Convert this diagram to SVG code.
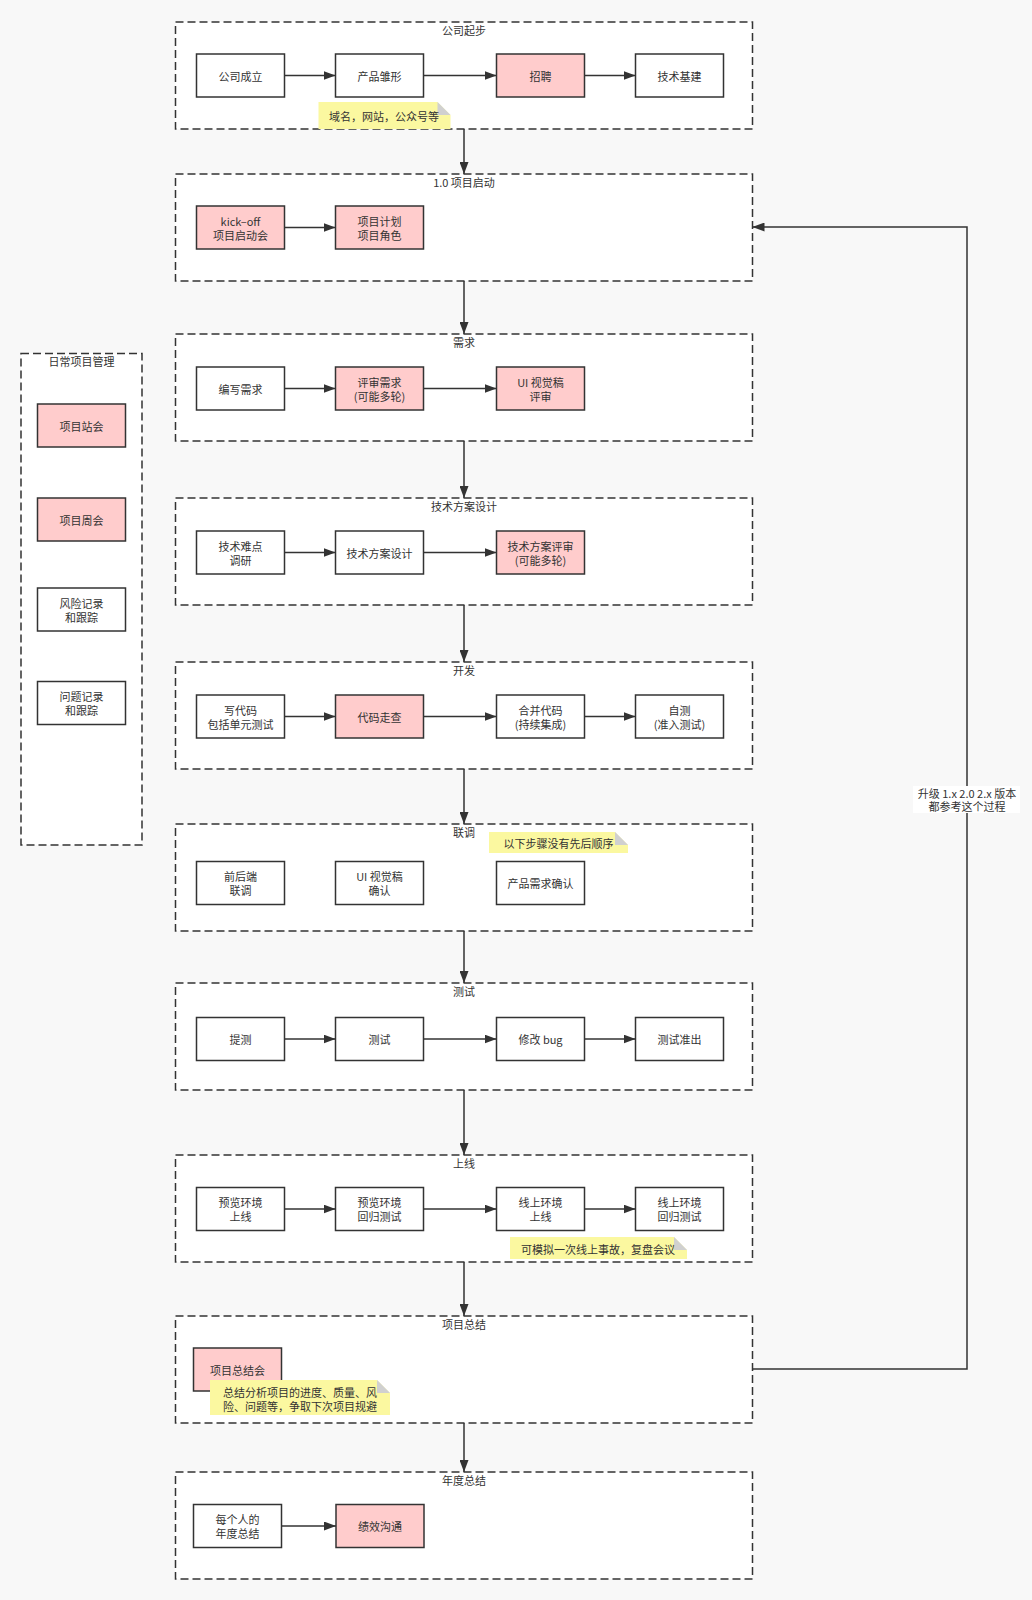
<svg xmlns="http://www.w3.org/2000/svg" width="1032" height="1600" viewBox="0 0 1032 1600">
<style>
text{font-family:"Noto Sans CJK SC","Liberation Sans",sans-serif;font-size:11px;fill:#333;text-anchor:middle;dominant-baseline:central}
.grp{fill:#fff;stroke:#333;stroke-width:1.5;stroke-dasharray:8 4}
.n{fill:#fff;stroke:#333;stroke-width:1.5}
.p{fill:#ffcccc;stroke:#333;stroke-width:1.5}
.note{fill:#fbf8a0}
.fold{fill:#d0d0d0}
.c{fill:none;stroke:#333;stroke-width:1.5;marker-end:url(#ah)}
</style>
<defs>
<marker id="ah" markerWidth="12" markerHeight="9" refX="12" refY="4.5" orient="auto" markerUnits="userSpaceOnUse"><path d="M0,0 L12,4.5 L0,9 Z" fill="#333"/></marker>
</defs>
<rect width="1032" height="1600" fill="#f8f8f8"/>

<!-- containers -->
<g id="grp-start"><rect class="grp" x="175.5" y="22" width="577" height="107"/><text x="464" y="29.5">公司起步</text></g>
<g id="grp-kickoff"><rect class="grp" x="175.5" y="174" width="577" height="107"/><text x="464" y="181.5">1.0 项目启动</text></g>
<g id="grp-req"><rect class="grp" x="175.5" y="334" width="577" height="107"/><text x="464" y="341.5">需求</text></g>
<g id="grp-design"><rect class="grp" x="175.5" y="498" width="577" height="107"/><text x="464" y="505.5">技术方案设计</text></g>
<g id="grp-dev"><rect class="grp" x="175.5" y="662" width="577" height="107"/><text x="464" y="669.5">开发</text></g>
<g id="grp-joint"><rect class="grp" x="175.5" y="824" width="577" height="107"/><text x="464" y="831.5">联调</text></g>
<g id="grp-test"><rect class="grp" x="175.5" y="983" width="577" height="107"/><text x="464" y="990.5">测试</text></g>
<g id="grp-release"><rect class="grp" x="175.5" y="1155" width="577" height="107"/><text x="464" y="1162.5">上线</text></g>
<g id="grp-summary"><rect class="grp" x="175.5" y="1316" width="577" height="107"/><text x="464" y="1323.5">项目总结</text></g>
<g id="grp-annual"><rect class="grp" x="175.5" y="1472" width="577" height="107"/><text x="464" y="1479.5">年度总结</text></g>
<g id="grp-daily"><rect class="grp" x="21" y="353.5" width="121" height="491.5"/><text x="81.5" y="361">日常项目管理</text></g>

<!-- connectors -->
<g id="connectors">
<path class="c" d="M284.5,75.5 H335.5"/>
<path class="c" d="M423.5,75.5 H496.5"/>
<path class="c" d="M584.5,75.5 H635.5"/>
<path class="c" d="M284.5,227.5 H335.5"/>
<path class="c" d="M284.5,388.5 H335.5"/>
<path class="c" d="M423.5,388.5 H496.5"/>
<path class="c" d="M284.5,552.5 H335.5"/>
<path class="c" d="M423.5,552.5 H496.5"/>
<path class="c" d="M284.5,716.5 H335.5"/>
<path class="c" d="M423.5,716.5 H496.5"/>
<path class="c" d="M584.5,716.5 H635.5"/>
<path class="c" d="M284.5,1039 H335.5"/>
<path class="c" d="M423.5,1039 H496.5"/>
<path class="c" d="M584.5,1039 H635.5"/>
<path class="c" d="M284.5,1209 H335.5"/>
<path class="c" d="M423.5,1209 H496.5"/>
<path class="c" d="M584.5,1209 H635.5"/>
<path class="c" d="M281.5,1526 H336"/>
<path class="c" d="M464,129 V174"/>
<path class="c" d="M464,281 V334"/>
<path class="c" d="M464,441 V498"/>
<path class="c" d="M464,605 V662"/>
<path class="c" d="M464,769 V824"/>
<path class="c" d="M464,931 V983"/>
<path class="c" d="M464,1090 V1155"/>
<path class="c" d="M464,1262 V1316"/>
<path class="c" d="M464,1423 V1472"/>
<path class="c" d="M752.5,1369 H967 V227 H752.5"/>
<rect x="913" y="786" width="107" height="27" fill="#fff"/>
<text x="967" y="793">升级 1.x 2.0 2.x 版本</text>
<text x="967" y="806">都参考这个过程</text>
</g>

<!-- 公司起步 -->
<g id="n-found"><rect class="n" x="196.5" y="54" width="88" height="43"/><text x="240.5" y="75.5">公司成立</text></g>
<g id="n-proto"><rect class="n" x="335.5" y="54" width="88" height="43"/><text x="379.5" y="75.5">产品雏形</text></g>
<g id="n-hire"><rect class="p" x="496.5" y="54" width="88" height="43"/><text x="540.5" y="75.5">招聘</text></g>
<g id="n-infra"><rect class="n" x="635.5" y="54" width="88" height="43"/><text x="679.5" y="75.5">技术基建</text></g>
<g id="note-domain"><path class="note" d="M318.5,102 H437.5 L450.5,115 V129 H318.5 Z"/><path class="fold" d="M437.5,102 L450.5,115 H437.5 Z"/><text x="384" y="116">域名，网站，公众号等</text></g>

<!-- 1.0 项目启动 -->
<g id="n-kickoff"><rect class="p" x="196.5" y="206" width="88" height="43"/><text x="240.5" y="220.5">kick–off</text><text x="240.5" y="234.5">项目启动会</text></g>
<g id="n-plan"><rect class="p" x="335.5" y="206" width="88" height="43"/><text x="379.5" y="220.5">项目计划</text><text x="379.5" y="234.5">项目角色</text></g>

<!-- 需求 -->
<g id="n-writereq"><rect class="n" x="196.5" y="367" width="88" height="43"/><text x="240.5" y="388.5">编写需求</text></g>
<g id="n-reviewreq"><rect class="p" x="335.5" y="367" width="88" height="43"/><text x="379.5" y="381.5">评审需求</text><text x="379.5" y="395.5">(可能多轮)</text></g>
<g id="n-uireview"><rect class="p" x="496.5" y="367" width="88" height="43"/><text x="540.5" y="381.5">UI 视觉稿</text><text x="540.5" y="395.5">评审</text></g>

<!-- 技术方案设计 -->
<g id="n-research"><rect class="n" x="196.5" y="531" width="88" height="43"/><text x="240.5" y="545.5">技术难点</text><text x="240.5" y="559.5">调研</text></g>
<g id="n-techdesign"><rect class="n" x="335.5" y="531" width="88" height="43"/><text x="379.5" y="552.5">技术方案设计</text></g>
<g id="n-techreview"><rect class="p" x="496.5" y="531" width="88" height="43"/><text x="540.5" y="545.5">技术方案评审</text><text x="540.5" y="559.5">(可能多轮)</text></g>

<!-- 开发 -->
<g id="n-code"><rect class="n" x="196.5" y="695" width="88" height="43"/><text x="240.5" y="709.5">写代码</text><text x="240.5" y="723.5">包括单元测试</text></g>
<g id="n-codereview"><rect class="p" x="335.5" y="695" width="88" height="43"/><text x="379.5" y="716.5">代码走查</text></g>
<g id="n-merge"><rect class="n" x="496.5" y="695" width="88" height="43"/><text x="540.5" y="709.5">合并代码</text><text x="540.5" y="723.5">(持续集成)</text></g>
<g id="n-selftest"><rect class="n" x="635.5" y="695" width="88" height="43"/><text x="679.5" y="709.5">自测</text><text x="679.5" y="723.5">(准入测试)</text></g>

<!-- 联调 -->
<g id="n-fe-be"><rect class="n" x="196.5" y="861.5" width="88" height="43"/><text x="240.5" y="876">前后端</text><text x="240.5" y="890">联调</text></g>
<g id="n-uiconfirm"><rect class="n" x="335.5" y="861.5" width="88" height="43"/><text x="379.5" y="876">UI 视觉稿</text><text x="379.5" y="890">确认</text></g>
<g id="n-prodconfirm"><rect class="n" x="496.5" y="861.5" width="88" height="43"/><text x="540.5" y="883">产品需求确认</text></g>
<g id="note-order"><path class="note" d="M489,832 H615 L628,845 V853 H489 Z"/><path class="fold" d="M615,832 L628,845 H615 Z"/><text x="558.5" y="843">以下步骤没有先后顺序</text></g>

<!-- 测试 -->
<g id="n-submit"><rect class="n" x="196.5" y="1017.5" width="88" height="43"/><text x="240.5" y="1039">提测</text></g>
<g id="n-testing"><rect class="n" x="335.5" y="1017.5" width="88" height="43"/><text x="379.5" y="1039">测试</text></g>
<g id="n-fixbug"><rect class="n" x="496.5" y="1017.5" width="88" height="43"/><text x="540.5" y="1039">修改 bug</text></g>
<g id="n-testexit"><rect class="n" x="635.5" y="1017.5" width="88" height="43"/><text x="679.5" y="1039">测试准出</text></g>

<!-- 上线 -->
<g id="n-preview"><rect class="n" x="196.5" y="1187.5" width="88" height="43"/><text x="240.5" y="1202">预览环境</text><text x="240.5" y="1216">上线</text></g>
<g id="n-previewreg"><rect class="n" x="335.5" y="1187.5" width="88" height="43"/><text x="379.5" y="1202">预览环境</text><text x="379.5" y="1216">回归测试</text></g>
<g id="n-online"><rect class="n" x="496.5" y="1187.5" width="88" height="43"/><text x="540.5" y="1202">线上环境</text><text x="540.5" y="1216">上线</text></g>
<g id="n-onlinereg"><rect class="n" x="635.5" y="1187.5" width="88" height="43"/><text x="679.5" y="1202">线上环境</text><text x="679.5" y="1216">回归测试</text></g>
<g id="note-incident"><path class="note" d="M510,1237 H674 L687,1250 V1259 H510 Z"/><path class="fold" d="M674,1237 L687,1250 H674 Z"/><text x="598" y="1248.5">可模拟一次线上事故，复盘会议</text></g>

<!-- 项目总结 -->
<g id="n-retro"><rect class="p" x="193.5" y="1348" width="88" height="43"/><text x="237.5" y="1370">项目总结会</text></g>
<g id="note-retro"><path class="note" d="M210,1380 H377 L390,1393 V1415 H210 Z"/><path class="fold" d="M377,1380 L390,1393 H377 Z"/><text x="300" y="1392">总结分析项目的进度、质量、风</text><text x="300" y="1406">险、问题等，争取下次项目规避</text></g>

<!-- 年度总结 -->
<g id="n-personal"><rect class="n" x="193.5" y="1504.5" width="88" height="43"/><text x="237.5" y="1519">每个人的</text><text x="237.5" y="1533">年度总结</text></g>
<g id="n-perf"><rect class="p" x="336" y="1504.5" width="88" height="43"/><text x="380" y="1526">绩效沟通</text></g>

<!-- 日常项目管理 -->
<g id="n-standup"><rect class="p" x="37.5" y="404" width="88" height="43"/><text x="81.5" y="425.5">项目站会</text></g>
<g id="n-weekly"><rect class="p" x="37.5" y="498" width="88" height="43"/><text x="81.5" y="519.5">项目周会</text></g>
<g id="n-risk"><rect class="n" x="37.5" y="588" width="88" height="43"/><text x="81.5" y="602.5">风险记录</text><text x="81.5" y="616.5">和跟踪</text></g>
<g id="n-issue"><rect class="n" x="37.5" y="681.5" width="88" height="43"/><text x="81.5" y="696">问题记录</text><text x="81.5" y="710">和跟踪</text></g>
</svg>
